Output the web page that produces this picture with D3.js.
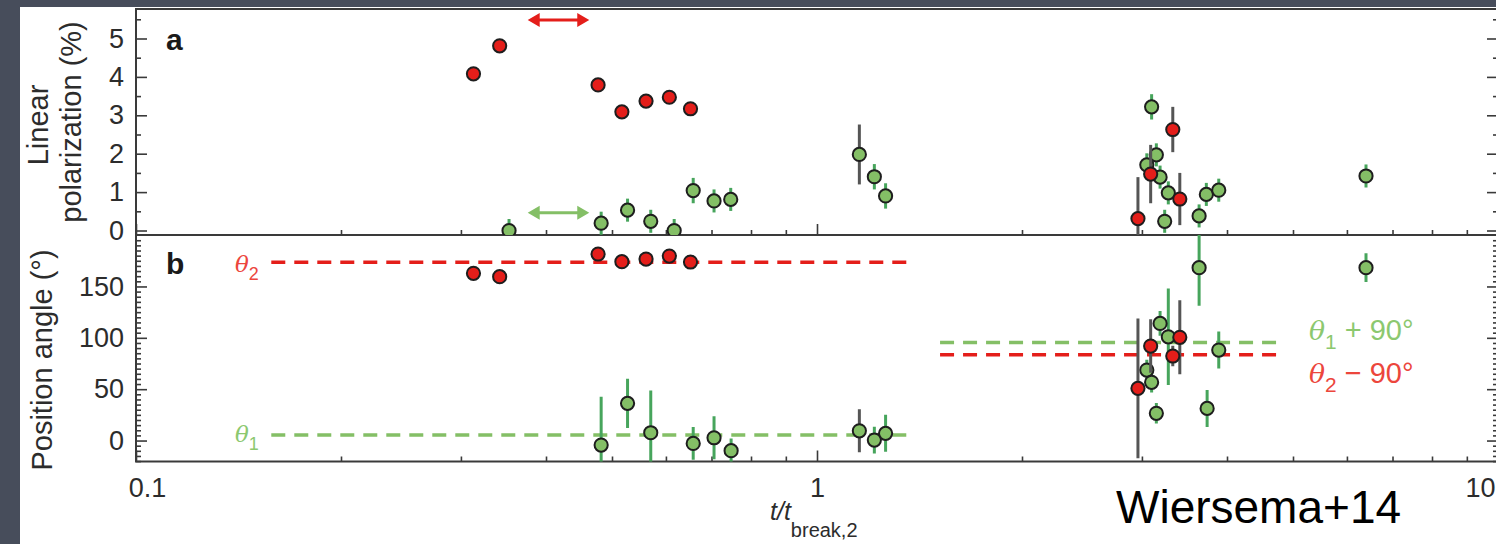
<!DOCTYPE html>
<html>
<head>
<meta charset="utf-8">
<script src="https://cdn.jsdelivr.net/npm/d3@7"></script>
<style>
  html, body { margin: 0; padding: 0; background: #474d5b; }
  svg { display: block; }
  text { font-family: "Liberation Sans", Arial, Helvetica, sans-serif; }
</style>
</head>
<body>
<svg id="chart" width="1496" height="544"></svg>
<script>
// ---- Data: time in units of t_break,2 ----
// Red epochs (polarization %, position angle deg)
const redT       = [0.313, 0.342, 0.477, 0.517, 0.561, 0.607, 0.652, 2.96, 3.09, 3.33, 3.41];
const redPol     = [4.08, 4.81, 3.79, 3.09, 3.37, 3.47, 3.17, 0.31, 1.47, 2.63, 0.82];
const redPolErr  = [0.1, 0.1, 0.1, 0.1, 0.1, 0.1, 0.1, 1.08, 0.76, 0.59, 0.68];
const redAng     = [162.8, 159.5, 181.6, 174.1, 176.7, 179.6, 173.8, 50.8, 92.0, 82.3, 100.5];
const redAngErr  = [3, 3, 3, 3, 3, 3, 3, 68, 26, 10, 36];

// Green epochs, polarization
const greenPolT   = [0.353, 0.482, 0.527, 0.570, 0.617, 0.658, 0.706, 0.747, 1.214, 1.261,
                     3.05, 3.10, 3.15, 3.19, 3.24, 3.28, 3.64, 3.73, 3.89, 6.40];
const greenPol    = [0.0, 0.19, 0.53, 0.24, 0.0, 1.04, 0.77, 0.81, 1.40, 0.90,
                     1.71, 3.22, 1.97, 1.39, 0.24, 0.98, 0.38, 0.94, 1.05, 1.42];
const greenPolErr = [0.3, 0.3, 0.3, 0.3, 0.3, 0.33, 0.3, 0.3, 0.33, 0.33,
                     0.3, 0.33, 0.3, 0.3, 0.3, 0.3, 0.3, 0.3, 0.3, 0.3];

// Green epochs, position angle
const greenAngT   = [0.482, 0.527, 0.570, 0.658, 0.706, 0.748, 1.214, 1.261,
                     3.05, 3.10, 3.15, 3.19, 3.28, 3.64, 3.74, 3.89, 6.40];
const greenAng    = [-4.4, 36.2, 7.6, -2.8, 2.7, -9.9, 0.5, 7.0,
                     68.6, 56.7, 26.5, 114.0, 101.0, 168.3, 31.3, 88.1, 168.3];
const greenAngErr = [47, 24, 41, 16, 21, 12, 13, 18,
                     10, 10, 10, 12, 47, 37, 18, 18, 14];

// Green epoch measured with a different instrument (dark error bars)
const otherT      = [1.154];
const otherPol    = [1.98];
const otherPolErr = [0.78];
const otherAng    = [9.5];
const otherAngErr = [21];

// Reference angles and the time spans they are drawn over
const theta1 = 5.4;
const theta2 = 173.5;
const earlySpan = [0.158, 1.38];
const lateSpan  = [1.516, 4.75];

// Double arrows marking a time window
const arrowSpan   = [0.376, 0.463];
const redArrowPol = 5.48;
const greenArrowPol = 0.46;

// Axis ticks
const xMajor = [0.1, 1, 10];
const xMinor = [0.2, 0.3, 0.4, 0.5, 0.6, 0.7, 0.8, 0.9, 2, 3, 4, 5, 6, 7, 8, 9];
const polMajor = [0, 1, 2, 3, 4, 5];
const polMinor = [0.5, 1.5, 2.5, 3.5, 4.5, 5.5];
const angMajor = [0, 50, 100, 150];
const angMinor = d3.range(-20, 201, 5).filter(v => v % 50 !== 0);

// ---- Layout ----
const W = 1496, H = 544;
const L = 136, R = 1498, TOP = 9, MID = 235, BOT = 461.5;

const RED = "#e41e1a", GREEN = "#84bf66", GREEN_BAR = "#47a55c", DARK_BAR = "#555";
const RED_TXT = "#ec463c", GREEN_TXT = "#8cc86f";
const AX = "#3a3a3a";

const svg = d3.select("#chart");

svg.append("rect").attr("width", W).attr("height", H).attr("fill", "#474d5b");
svg.append("rect").attr("x", 20).attr("y", 7).attr("width", W - 20).attr("height", H - 7).attr("fill", "#fff");

const x  = d3.scaleLog().domain([0.1, 10]).range([L, R]);
const yA = d3.scaleLinear().domain([-0.117, 5.768]).range([MID, TOP]);
const yB = d3.scaleLinear().domain([-20.4, 200.1]).range([BOT, MID]);

const defs = svg.append("defs");
defs.append("clipPath").attr("id", "clipA").append("rect")
  .attr("x", L).attr("y", TOP).attr("width", R - L).attr("height", MID - TOP);
defs.append("clipPath").attr("id", "clipB").append("rect")
  .attr("x", L).attr("y", MID).attr("width", R - L).attr("height", BOT - MID);

// ---- Axes ----
function styleAxis(g) {
  g.select(".domain").remove();
  g.selectAll(".tick line").attr("stroke", AX).attr("stroke-width", 1.6);
  g.selectAll(".tick text").attr("fill", "#2c2c2c").attr("font-size", 27)
    .attr("font-family", '"Liberation Sans", Arial, sans-serif');
}

// left / right y axes
[[yA, polMajor, polMinor, d3.format("d")], [yB, angMajor, angMinor, d3.format("d")]].forEach(([ys, maj, mino, fmt]) => {
  svg.append("g").attr("transform", `translate(${L},0)`)
    .call(d3.axisLeft(ys).tickValues(maj).tickSize(-11).tickPadding(12).tickFormat(fmt)).call(styleAxis);
  svg.append("g").attr("transform", `translate(${L},0)`)
    .call(d3.axisLeft(ys).tickValues(mino).tickSize(-5).tickFormat("")).call(styleAxis);
  svg.append("g").attr("transform", `translate(${R},0)`)
    .call(d3.axisRight(ys).tickValues(maj).tickSize(-11).tickFormat("")).call(styleAxis);
  svg.append("g").attr("transform", `translate(${R},0)`)
    .call(d3.axisRight(ys).tickValues(mino).tickSize(-5).tickFormat("")).call(styleAxis);
});

// x axes at the bottom of both panels
[MID, BOT].forEach((yy, i) => {
  const gMaj = svg.append("g").attr("transform", `translate(0,${yy})`)
    .call(d3.axisBottom(x).tickValues(xMajor).tickSize(-11).tickPadding(16)
      .tickFormat(i === 1 ? d3.format("") : () => "")).call(styleAxis);
  svg.append("g").attr("transform", `translate(0,${yy})`)
    .call(d3.axisBottom(x).tickValues(xMinor).tickSize(-5).tickFormat("")).call(styleAxis);
  if (i === 1) {
    gMaj.selectAll(".tick text").attr("dx", d => d === 0.1 ? 11 : d === 10 ? -18 : 0);
  }
});

// frame
svg.append("rect").attr("x", L).attr("y", TOP).attr("width", R - L).attr("height", BOT - TOP)
  .attr("fill", "none").attr("stroke", AX).attr("stroke-width", 2);
svg.append("line").attr("x1", L).attr("x2", R).attr("y1", MID).attr("y2", MID)
  .attr("stroke", AX).attr("stroke-width", 2);

// ---- Axis titles ----
svg.append("text").attr("transform", "translate(48,125) rotate(-90)")
  .attr("text-anchor", "middle").attr("font-size", 29).attr("fill", "#2c2c2c").text("Linear");
svg.append("text").attr("transform", "translate(81,122) rotate(-90)")
  .attr("text-anchor", "middle").attr("font-size", 29).attr("fill", "#2c2c2c").text("polarization (%)");
svg.append("text").attr("transform", "translate(52,360) rotate(-90)")
  .attr("text-anchor", "middle").attr("font-size", 29).attr("fill", "#2c2c2c").text("Position angle (°)");

const xl = svg.append("text").attr("x", 770).attr("y", 520).attr("fill", "#2c2c2c").attr("font-size", 25);
xl.append("tspan").attr("font-style", "italic").text("t/t");
xl.append("tspan").attr("font-size", 20).attr("dy", 17).text("break,2");

// panel letters
svg.append("text").attr("x", 166).attr("y", 50).attr("font-size", 30).attr("font-weight", "bold")
  .attr("fill", "#1a1a1a").text("a");
svg.append("text").attr("x", 166).attr("y", 274).attr("font-size", 30).attr("font-weight", "bold")
  .attr("fill", "#1a1a1a").text("b");

// ---- Reference angle lines ----
const refLines = [
  { span: earlySpan, v: theta2, c: RED },
  { span: earlySpan, v: theta1, c: GREEN },
  { span: lateSpan,  v: theta1 + 90, c: GREEN },
  { span: lateSpan,  v: theta2 - 90, c: RED }
];
svg.append("g").selectAll("line").data(refLines).join("line")
  .attr("x1", d => x(d.span[0])).attr("x2", d => x(d.span[1]))
  .attr("y1", d => yB(d.v)).attr("y2", d => yB(d.v))
  .attr("stroke", d => d.c).attr("stroke-width", 3.5).attr("stroke-dasharray", "14 9");

// labels for the reference lines
function thetaLabel(xp, yp, sub, rest, color, size) {
  const t = svg.append("text").attr("x", xp).attr("y", yp).attr("fill", color).attr("font-size", size);
  t.append("tspan").attr("font-style", "italic").attr("font-family", '"DejaVu Serif", "Liberation Serif", serif')
    .attr("font-size", size * 0.92).text("θ");
  t.append("tspan").attr("font-size", size * 0.72).attr("dy", size * 0.3).text(sub);
  if (rest) t.append("tspan").attr("dy", -size * 0.3).text(rest);
}
thetaLabel(235, 272, "2", null, RED_TXT, 25);
thetaLabel(235, 442, "1", null, GREEN_TXT, 25);
thetaLabel(1309, 340, "1", " + 90°", GREEN_TXT, 29);
thetaLabel(1309, 383, "2", " \u2212 90°", RED_TXT, 29);

// ---- Double arrows ----
function doubleArrow(yv, color) {
  const x0 = x(arrowSpan[0]), x1 = x(arrowSpan[1]), yy = yA(yv);
  const hl = 12, hw = 7;
  const g = svg.append("g");
  g.append("line").attr("x1", x0 + hl - 2).attr("x2", x1 - hl + 2).attr("y1", yy).attr("y2", yy)
    .attr("stroke", color).attr("stroke-width", 3);
  g.append("path").attr("fill", color)
    .attr("d", `M${x0},${yy}L${x0 + hl},${yy - hw}L${x0 + hl},${yy + hw}Z M${x1},${yy}L${x1 - hl},${yy - hw}L${x1 - hl},${yy + hw}Z`);
}
doubleArrow(redArrowPol, RED);
doubleArrow(greenArrowPol, GREEN);

// ---- Data points ----
function layer(ys, clip, ts, vs, es, fill, barColor) {
  const pts = ts.map((t, i) => ({ t, v: vs[i], e: es[i], y: ys(vs[i]) }));
  const g = svg.append("g").attr("clip-path", `url(#${clip})`);
  g.selectAll("line").data(pts).join("line")
    .attr("x1", d => x(d.t)).attr("x2", d => x(d.t))
    .attr("y1", d => ys(d.v - d.e)).attr("y2", d => ys(d.v + d.e))
    .attr("stroke", barColor).attr("stroke-width", 3);
  return { g, pts, fill };
}
function markers(s) {
  s.g.selectAll("circle").data(s.pts).join("circle")
    .attr("cx", d => x(d.t)).attr("cy", d => d.y)
    .attr("r", 6.6).attr("fill", s.fill).attr("stroke", "#1e1e1e").attr("stroke-width", 2);
}

const layersA = [
  layer(yA, "clipA", greenPolT, greenPol, greenPolErr, GREEN, GREEN_BAR),
  layer(yA, "clipA", otherT, otherPol, otherPolErr, GREEN, DARK_BAR),
  layer(yA, "clipA", redT, redPol, redPolErr, RED, DARK_BAR)
];
const layersB = [
  layer(yB, "clipB", greenAngT, greenAng, greenAngErr, GREEN, GREEN_BAR),
  layer(yB, "clipB", otherT, otherAng, otherAngErr, GREEN, DARK_BAR),
  layer(yB, "clipB", redT, redAng, redAngErr, RED, DARK_BAR)
];
layersA.concat(layersB).forEach(markers);

// ---- Credit ----
svg.append("text").attr("x", 1116).attr("y", 523).attr("font-size", 46).attr("fill", "#000")
  .text("Wiersema+14");
</script>
</body>
</html>
